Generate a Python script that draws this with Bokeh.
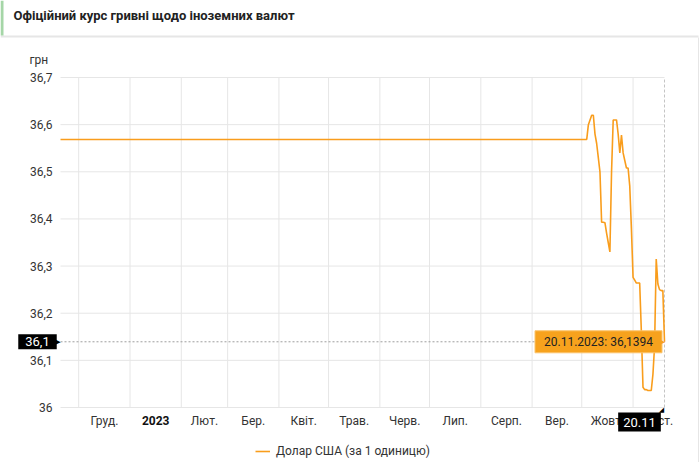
import pandas as pd
from bokeh.plotting import figure
from bokeh.models import (Range1d, FixedTicker, CustomJSTickFormatter, Label,
                          BoxAnnotation, Legend, LegendItem)
from bokeh.embed import file_html
from bokeh.resources import INLINE

# ---------------- data ----------------
title_text = "Офіційний курс гривні щодо іноземних валют"
unit_text = "грн"
series_name = "Долар США (за 1 одиницю)"

dates = [
    "2022-11-20", "2023-10-04",
    "2023-10-05", "2023-10-06", "2023-10-07", "2023-10-08", "2023-10-09", "2023-10-10",
    "2023-10-11", "2023-10-12", "2023-10-13", "2023-10-14", "2023-10-15", "2023-10-16",
    "2023-10-17", "2023-10-18", "2023-10-19", "2023-10-20", "2023-10-21", "2023-10-22",
    "2023-10-23", "2023-10-24", "2023-10-25", "2023-10-26", "2023-10-27", "2023-10-28",
    "2023-10-29", "2023-10-30", "2023-10-31", "2023-11-01", "2023-11-02", "2023-11-03",
    "2023-11-04", "2023-11-05", "2023-11-06", "2023-11-07", "2023-11-08", "2023-11-09",
    "2023-11-10", "2023-11-11", "2023-11-12", "2023-11-13", "2023-11-14", "2023-11-15",
    "2023-11-16", "2023-11-17", "2023-11-18", "2023-11-19", "2023-11-20",
]
usd = [
    36.5686, 36.5686,
    36.6000, 36.6100, 36.6200, 36.6200, 36.5800, 36.5600,
    36.5300, 36.5000, 36.3930, 36.3930, 36.3920, 36.3700,
    36.3500, 36.3300, 36.5000, 36.6100, 36.6100, 36.6100,
    36.5800, 36.5400, 36.5780, 36.5400, 36.5240, 36.5080,
    36.5080, 36.4700, 36.3800, 36.2760, 36.2700, 36.2640,
    36.2640, 36.2640, 36.1630, 36.0430, 36.0380, 36.0380,
    36.0360, 36.0360, 36.0360, 36.0700, 36.1300, 36.3150,
    36.2620, 36.2500, 36.2480, 36.2480, 36.1394,
]

y_ticks = [36.0, 36.1, 36.2, 36.3, 36.4, 36.5, 36.6, 36.7]
month_starts = ["2022-12-01", "2023-01-01", "2023-02-01", "2023-03-01", "2023-04-01",
                "2023-05-01", "2023-06-01", "2023-07-01", "2023-08-01", "2023-09-01",
                "2023-10-01", "2023-11-01", "2023-12-01"]
month_labels = ["Груд.", "2023", "Лют.", "Бер.", "Квіт.", "Трав.", "Черв.", "Лип.",
                "Серп.", "Вер.", "Жовт.", "Лист."]
x_start = "2022-11-20"
x_end = "2023-11-20"
y_min, y_max = 36.0, 36.7
cursor_date = "2023-11-20"
cursor_value = 36.1394
cursor_y_label = "36,1"
cursor_x_label = "20.11"
tooltip_text = "20.11.2023: 36,1394"

# ---------------- layout / styling ----------------
W, H = 700, 462
PL, PR, PT, PB = 60, 664, 77, 407      # plot area in canvas pixels
LINE = "#F99D1C"
TIP = "#F7A21D"
GRID = "#E6E6E6"
TXT = "#333333"
FONT = "Roboto"

def ms(d):
    return int(pd.Timestamp(d).value // 10**6)

x0_ms, x1_ms = ms(x_start), ms(x_end)
start_ms = [ms(d) for d in month_starts]
mid_ms = [(start_ms[i] + start_ms[i + 1]) / 2 for i in range(len(month_labels))]
axis_labels = ["" if l.isdigit() else l for l in month_labels]

kx = (x1_ms - x0_ms) / (PR - PL)
ky = (y_max - y_min) / (PB - PT)
p = figure(width=W, height=H, x_axis_type="datetime", output_backend="svg",
           toolbar_location=None, title=None,
           min_border=0, min_border_left=0, min_border_right=0,
           min_border_top=0, min_border_bottom=0,
           x_range=Range1d(x0_ms - PL * kx, x1_ms + (W - PR) * kx),
           y_range=Range1d(y_min - (H - PB) * ky, y_max + PT * ky))
p.outline_line_color = None
p.background_fill_color = "white"
p.border_fill_color = "white"
p.xgrid.visible = False
p.ygrid.visible = False

# axes (drawn at the edges of the plotting area)
yax, xax = p.yaxis[0], p.xaxis[0]
yax.fixed_location = x0_ms
xax.fixed_location = y_min
yax.ticker = FixedTicker(ticks=y_ticks)
yax.formatter = CustomJSTickFormatter(
    code="let s = tick.toFixed(1).replace('.', ','); return s.endsWith(',0') ? s.slice(0, -2) : s;")
xax.ticker = FixedTicker(ticks=mid_ms)
xax.formatter = CustomJSTickFormatter(args=dict(t=mid_ms, labels=axis_labels), code="""
let best = 0, d = Infinity;
for (let i = 0; i < t.length; i++) { const e = Math.abs(t[i] - tick); if (e < d) { d = e; best = i; } }
return labels[best];""")
for ax in (xax, yax):
    ax.axis_line_color = None
    ax.major_tick_line_color = None
    ax.minor_tick_line_color = None
    ax.major_tick_out = 0
    ax.major_tick_in = 0
    ax.minor_tick_out = 0
    ax.major_label_text_font = FONT
    ax.major_label_text_font_size = "12px"
    ax.major_label_text_color = TXT
yax.major_label_standoff = 8
xax.major_label_standoff = 6

# grid lines
p.segment(x0=[x0_ms] * len(y_ticks), y0=y_ticks, x1=[x1_ms] * len(y_ticks), y1=y_ticks,
          line_color=GRID, line_width=1)
grid_x = start_ms[:-1]
p.segment(x0=grid_x, y0=[y_min] * len(grid_x), x1=grid_x, y1=[y_max] * len(grid_x),
          line_color=GRID, line_width=1)

# crosshair
cx = ms(cursor_date)
p.segment(x0=[x0_ms], y0=[cursor_value], x1=[cx], y1=[cursor_value],
          line_color="#9E9E9E", line_dash="2 2", line_width=1)
p.segment(x0=[cx], y0=[y_min], x1=[cx], y1=[y_max],
          line_color="#C4C4C4", line_dash="3 2", line_width=1)

# data line
r = p.line(x=pd.to_datetime(dates), y=usd, line_color=LINE, line_width=1.6)

OV = "overlay"
def sy(y_px):
    return H - y_px

# bold year label on the time axis
p.add_layout(Label(x=mid_ms[1], y=sy(420), x_units="data", y_units="screen", level=OV,
                   text=month_labels[1], text_align="center", text_baseline="middle",
                   text_font=FONT, text_font_size="12px", text_font_style="bold",
                   text_color="#111111"))

# header
def box(l, r_, t, b, color):
    return BoxAnnotation(left=l, right=r_, top=sy(t), bottom=sy(b), level=OV,
                         left_units="screen", right_units="screen",
                         top_units="screen", bottom_units="screen",
                         fill_color=color, fill_alpha=1, line_color=None)
p.add_layout(box(0, 698, 35, 37, "#E6E6E6"))
p.add_layout(box(0, 3, 0, 35, "#A5D6A7"))
p.add_layout(box(697.5, 698.5, 37, H, "#E6E6E6"))
p.add_layout(Label(x=13, y=sy(15), x_units="screen", y_units="screen", text=title_text,
                   level=OV, text_baseline="middle", text_font=FONT, text_font_size="13px",
                   text_font_style="bold", text_color="#222222"))
p.add_layout(Label(x=29, y=sy(59), x_units="screen", y_units="screen", text=unit_text,
                   level=OV, text_baseline="middle", text_font=FONT, text_font_size="12px",
                   text_color=TXT))

# crosshair labels
p.add_layout(Label(x=37, y=cursor_value, x_units="screen", y_units="data", text=cursor_y_label,
                   level=OV, text_align="center", text_baseline="middle", text_font=FONT,
                   text_font_size="13px", text_color="white",
                   background_fill_color="black", padding=dict(left=7, right=7, top=3, bottom=3)))
p.add_layout(Label(x=57.5, y=cursor_value, x_units="screen", y_units="data", text="▶", level=OV,
                   text_align="center", text_baseline="middle", text_font="DejaVu Sans",
                   text_font_size="7px", text_color="black"))
p.add_layout(Label(x=cx, x_offset=-25, y=sy(421.5), x_units="data", y_units="screen",
                   text=cursor_x_label, level=OV, text_align="center", text_baseline="middle",
                   text_font=FONT, text_font_size="13px", text_color="white",
                   background_fill_color="black", padding=dict(left=5, right=5, top=5, bottom=5)))
p.add_layout(Label(x=cx, x_offset=-3, y=sy(409), x_units="data", y_units="screen", text="◢",
                   level=OV, text_align="center", text_baseline="middle", text_font="DejaVu Sans",
                   text_font_size="7px", text_color="black"))
p.add_layout(Label(x=cx, x_offset=-66, y=cursor_value, x_units="data", y_units="data",
                   text=tooltip_text, level=OV, text_align="center", text_baseline="middle",
                   text_font=FONT, text_font_size="12px", text_color="#222222",
                   background_fill_color=TIP, border_line_color="#FBC46B",
                   padding=dict(left=9, right=9, top=4, bottom=4)))
p.add_layout(Label(x=cx, x_offset=-2, y=cursor_value, x_units="data", y_units="data", text="▶",
                   level=OV, text_align="center", text_baseline="middle", text_font="DejaVu Sans",
                   text_font_size="7px", text_color=TIP))

# legend
legend = Legend(items=[LegendItem(label=series_name, renderers=[r])], location=(255, sy(458)),
                level=OV, orientation="horizontal", background_fill_alpha=0,
                border_line_color=None, padding=0, margin=0, spacing=0, glyph_width=15,
                glyph_height=14, label_standoff=6, label_height=14, label_text_font=FONT,
                label_text_font_size="12px", label_text_color=TXT)
p.add_layout(legend)

open("out.html", "w").write(file_html(p, INLINE))
